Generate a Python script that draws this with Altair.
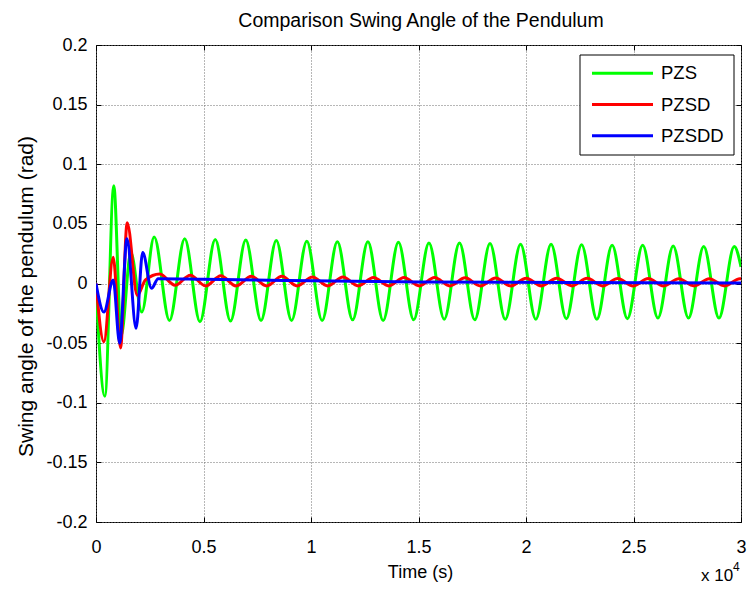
import altair as alt
import pandas as pd

# ---------------- data ----------------
series_names = ["PZS", "PZSD", "PZSDD"]
series_colors = ["#00ff00", "#ff0000", "#0000ff"]

pzs_t = [0, 413, 826, 1170, 1620, 2130, 2706, 3416, 4126, 4836, 5546, 6256, 6966,
         7676, 8386, 9096, 9806, 10516, 11226, 11936, 12646, 13356, 14066, 14776,
         15486, 16196, 16906, 17616, 18326, 19036, 19746, 20456, 21166, 21876,
         22586, 23296, 24006, 24716, 25426, 26136, 26846, 27556, 28266, 28976,
         29686, 30000]
pzs_v = [-0.005, -0.0945, 0.082, -0.044, 0.026, -0.024, 0.039, -0.031, 0.0375,
         -0.032, 0.037, -0.0315, 0.0365, -0.031, 0.036, -0.031, 0.0355, -0.031,
         0.035, -0.0305, 0.035, -0.031, 0.0345, -0.0305, 0.034, -0.030, 0.034,
         -0.0305, 0.0335, -0.030, 0.033, -0.030, 0.033, -0.0295, 0.0325, -0.030,
         0.032, -0.0295, 0.032, -0.029, 0.0315, -0.029, 0.031, -0.029, 0.031,
         0.014]

pzsd_t = [0, 367, 800, 1140, 1450, 1920, 2300, 2966, 3676, 4386, 5096, 5806, 6516,
          7226, 7936, 8646, 9356, 10066, 10776, 11486, 12196, 12906, 13616, 14326,
          15036, 15746, 16456, 17166, 17876, 18586, 19296, 20006, 20716, 21426,
          22136, 22846, 23556, 24266, 24976, 25686, 26396, 27106, 27816, 28526,
          29236, 29946, 30000]
pzsd_v = [0.0, -0.049, 0.022, -0.054, 0.051, -0.010, 0.003, 0.008, -0.0015, 0.007,
          -0.002, 0.0065, -0.002, 0.006, -0.002, 0.006, -0.002, 0.0055, -0.002,
          0.0055, -0.002, 0.005, -0.002, 0.005, -0.002, 0.005, -0.002, 0.0048,
          -0.002, 0.0046, -0.002, 0.0045, -0.002, 0.0044, -0.002, 0.0043, -0.002,
          0.0042, -0.002, 0.0041, -0.002, 0.004, -0.002, 0.004, -0.002, 0.004,
          0.004]

pzsdd_t = [0, 367, 800, 1100, 1440, 1865, 2171, 2584, 2890, 5000, 9000, 15000,
           22000, 30000]
pzsdd_v = [0.0, -0.024, 0.003, -0.050, 0.0375, -0.0375, 0.026, -0.004, 0.004,
           0.0035, 0.0025, 0.0013, 0.0008, 0.0004]

x_ticks = [0, 5000, 10000, 15000, 20000, 25000, 30000]
y_ticks = [-0.2, -0.15, -0.1, -0.05, 0, 0.05, 0.1, 0.15, 0.2]

chart_title = "Comparison Swing Angle of the Pendulum"
x_title = "Time (s)"
y_title = "Swing angle of the pendulum (rad)"

rows = []
for name, ts, vs in zip(series_names, [pzs_t, pzsd_t, pzsdd_t], [pzs_v, pzsd_v, pzsdd_v]):
    rows += [{"t": t, "v": v, "series": name} for t, v in zip(ts, vs)]
df = pd.DataFrame(rows)

# ---------------- styling ----------------
FONT = "Liberation Sans, Arial, Helvetica"
GRID = dict(grid=True, gridColor="#6e6e6e", gridDash=[1, 2], gridWidth=1)
W, H = 645, 477

xs = alt.Scale(domain=[0, 30000], nice=False, zero=False)
ys = alt.Scale(domain=[-0.2, 0.2], nice=False, zero=False)
cs = alt.Scale(domain=series_names, range=series_colors)

lines = alt.Chart(df).mark_line(
    strokeWidth=3, interpolate="monotone", clip=True, strokeJoin="round"
).encode(
    x=alt.X("t:Q", scale=xs, axis=alt.Axis(
        orient="bottom", values=x_ticks, labelExpr="datum.value / 10000",
        offset=-5, tickSize=5, tickColor="black", tickWidth=1, domain=False,
        labelFont=FONT, labelFontSize=18, labelColor="black", labelPadding=25,
        labelBaseline="middle", labelFlush=False, labelOverlap=False,
        title=x_title, titleFont=FONT, titleFontSize=18, titleFontWeight="normal",
        titleColor="black", titleX=324, titleY=55, titleBaseline="middle",
        titleAlign="center", **GRID)),
    y=alt.Y("v:Q", scale=ys, axis=alt.Axis(
        orient="left", values=y_ticks, labelExpr="'' + datum.value",
        offset=-5, tickSize=5, tickColor="black", tickWidth=1, domain=False,
        labelFont=FONT, labelFontSize=18, labelColor="black", labelPadding=9,
        labelFlush=False, labelOverlap=False,
        title=y_title, titleFont=FONT, titleFontSize=21,
        titleFontWeight="normal", titleColor="black", titleX=-75, titleY=251,
        titleAngle=270, titleAlign="center", titleBaseline="middle", **GRID)),
    color=alt.Color("series:N", scale=cs, legend=None),
)

frame = alt.Chart(pd.DataFrame({"t": [0], "v": [0]})).mark_point(opacity=0).encode(
    x=alt.X("t:Q", scale=xs, axis=alt.Axis(
        orient="top", values=x_ticks, offset=-5, tickSize=5, tickColor="black",
        tickWidth=1, labels=False, domain=False, grid=False, title="")),
    y=alt.Y("v:Q", scale=ys, axis=alt.Axis(
        orient="right", values=y_ticks, offset=-5, tickSize=5, tickColor="black",
        tickWidth=1, labels=False, domain=False, grid=False, title="")),
)

leg_df = pd.DataFrame({"series": series_names})
leg_y = alt.Y("series:N", axis=None,
              scale=alt.Scale(type="point", domain=series_names, range=[28.3, 90.7], padding=0))

leg_box = alt.Chart(pd.DataFrame({"k": [0]})).mark_rect(
    fill="white", stroke="black", strokeWidth=1
).encode(x=alt.value(484), x2=alt.value(638), y=alt.value(10), y2=alt.value(110))

leg_lines = alt.Chart(leg_df).mark_rule(strokeWidth=3).encode(
    x=alt.value(496), x2=alt.value(557), y=leg_y,
    color=alt.Color("series:N", scale=cs, legend=None))

leg_text = alt.Chart(leg_df).mark_text(
    align="left", baseline="middle", font=FONT, fontSize=18.5, color="black"
).encode(x=alt.value(565), y=leg_y, text="series:N")

one = pd.DataFrame({"k": [0]})
title_mark = alt.Chart(one).mark_text(
    align="center", baseline="alphabetic", font=FONT, fontSize=19.5, color="black"
).encode(x=alt.value(325), y=alt.value(-18), text=alt.value(chart_title))
x10 = alt.Chart(one).mark_text(
    align="left", baseline="alphabetic", font=FONT, fontSize=17, color="black"
).encode(x=alt.value(605), y=alt.value(536), text=alt.value("x 10"))
sup = alt.Chart(one).mark_text(
    align="left", baseline="alphabetic", font=FONT, fontSize=12, color="black"
).encode(x=alt.value(637), y=alt.value(526), text=alt.value("4"))

chart = alt.layer(lines, frame, leg_box, leg_lines, leg_text, title_mark, x10, sup).resolve_scale(
    y="independent"
).resolve_axis(
    x="independent", y="independent"
).properties(
    width=W, height=H,
    autosize=alt.AutoSizeParams(type="none"),
    padding={"left": 88, "top": 37, "right": 6, "bottom": 63},
    background="white",
).configure_view(stroke="black", strokeWidth=1, fill="white")

chart.save("out.html", embed_options={"renderer": "svg", "actions": False})
